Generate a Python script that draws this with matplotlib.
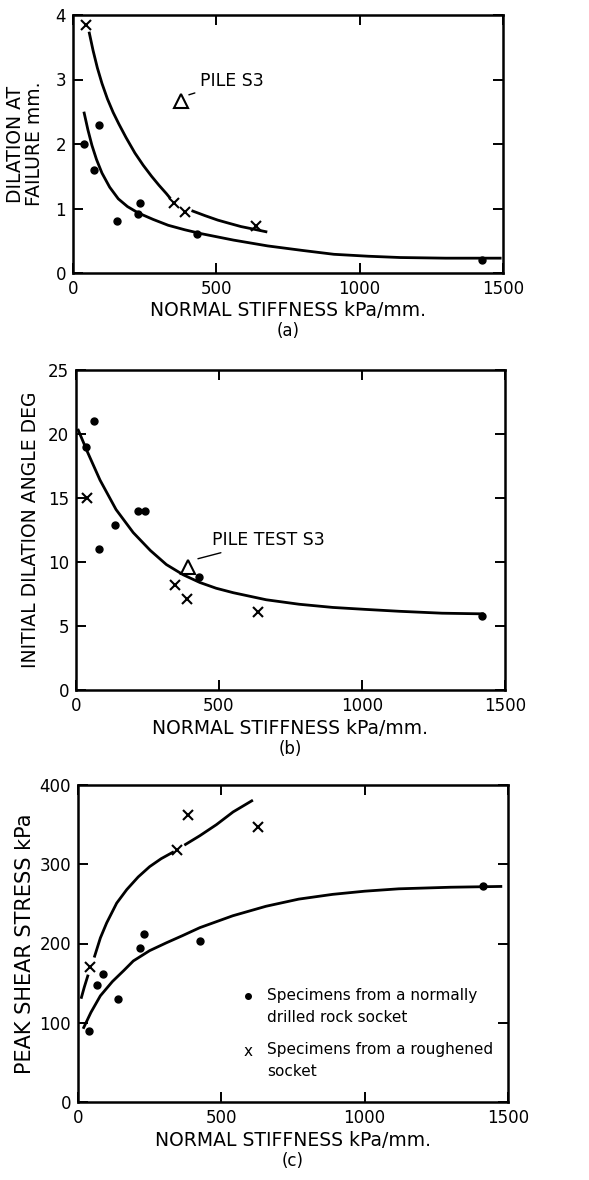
import matplotlib
matplotlib.use("Agg")
import matplotlib.pyplot as plt

plt.rcParams['font.family'] = ['DejaVu Sans']

# ---------------- data ----------------
# (a) dilation at failure
a_dot_x = [37, 74, 91, 155, 225, 234, 434, 1425]
a_dot_y = [2.0, 1.6, 2.3, 0.8, 0.92, 1.08, 0.6, 0.2]
a_x_x = [47, 352, 392, 638]
a_x_y = [3.85, 1.08, 0.94, 0.73]
a_tri_x = [375]
a_tri_y = [2.67]
a_up1_x = [57, 70, 85, 101, 120, 140, 160, 185, 216, 245, 274, 300, 326, 337]
a_up1_y = [3.72, 3.45, 3.18, 2.94, 2.70, 2.49, 2.31, 2.10, 1.86, 1.67, 1.50, 1.36, 1.23, 1.17]
a_up2_x = [418, 460, 505, 545, 586, 630, 673]
a_up2_y = [0.96, 0.89, 0.82, 0.77, 0.72, 0.68, 0.64]
a_lo_x = [39, 52, 66, 82, 101, 128, 158, 190, 228, 280, 332, 390, 447, 560, 679, 800, 910, 1030, 1141, 1300, 1490]
a_lo_y = [2.48, 2.22, 1.98, 1.76, 1.55, 1.33, 1.15, 1.03, 0.93, 0.83, 0.74, 0.67, 0.61, 0.51, 0.42, 0.35, 0.29, 0.26, 0.24, 0.23, 0.23]

# (b) initial dilation angle
b_dot_x = [35, 63, 79, 136, 218, 240, 430, 1420]
b_dot_y = [19.0, 21.0, 11.0, 12.9, 14.0, 14.0, 8.8, 5.8]
b_x_x = [40, 345, 388, 636]
b_x_y = [15.0, 8.2, 7.1, 6.1]
b_tri_x = [392]
b_tri_y = [9.6]
b_cur_x = [8, 40, 84, 140, 200, 260, 316, 375, 433, 490, 550, 665, 780, 898, 1010, 1130, 1280, 1421]
b_cur_y = [20.3, 18.6, 16.4, 14.1, 12.3, 10.9, 9.8, 9.0, 8.4, 7.95, 7.6, 7.05, 6.7, 6.45, 6.3, 6.15, 6.0, 5.95]

# (c) peak shear stress
c_dot_x = [37, 66, 87, 141, 216, 230, 424, 1414]
c_dot_y = [90, 148, 161, 130, 194, 212, 203, 273]
c_x_x = [43, 344, 384, 627]
c_x_y = [170, 318, 362, 347]
c_up1_x = [12, 22, 34]
c_up1_y = [132, 145, 159]
c_up2_x = [58, 78, 100, 135, 170, 210, 250, 290, 330]
c_up2_y = [184, 207, 226, 251, 268, 284, 297, 307, 315]
c_up3_x = [375, 425, 483, 541, 606]
c_up3_y = [325, 336, 350, 366, 380]
c_lo_x = [20, 45, 78, 120, 160, 193, 250, 309, 365, 425, 540, 656, 770, 888, 1000, 1119, 1300, 1475]
c_lo_y = [94, 113, 134, 152, 166, 178, 191, 201, 210, 220, 235, 247, 256, 262, 266, 269, 271, 272]

xticks = [0, 500, 1000, 1500]
xlabel = "NORMAL STIFFNESS kPa/mm."
captions = ["(a)", "(b)", "(c)"]
legend_lines = ["Specimens from a normally", "drilled rock socket",
                "Specimens from a roughened", "socket"]

# ---------------- figure ----------------
W, H = 589, 1180
fig = plt.figure(figsize=(W / 100, H / 100), dpi=100)

def px_axes(l, r, t, b):
    return fig.add_axes([l / W, 1 - b / H, (r - l) / W, (b - t) / H])

ax1 = px_axes(73, 503, 15, 273)
ax2 = px_axes(76, 505, 370, 690)
ax3 = px_axes(78, 508, 785, 1102)

lw_curve = 2.0
tick_fs = 12
lab_fs = 13.5

def style(ax, ymax, ystep):
    ax.set_xlim(0, 1500)
    ax.set_ylim(0, ymax)
    ax.set_xticks(xticks)
    ax.set_yticks(list(range(0, ymax + 1, ystep)))
    ax.tick_params(direction='in', length=7, width=1.4, top=True, right=True,
                   labelsize=tick_fs, pad=5)
    for s in ax.spines.values():
        s.set_linewidth(1.8)

def under_text(ax, ypx, text, fs):
    pos = ax.get_position()
    fig.text(pos.x0 + pos.width / 2, 1 - ypx / H, text, ha='center', va='center', fontsize=fs)

def dots(ax, x, y):
    ax.plot(x, y, 'o', color='black', markersize=5, markerfacecolor='black',
            linestyle='none')

def crosses(ax, x, y):
    ax.plot(x, y, 'x', color='black', markersize=7, mew=1.5, linestyle='none')

# (a)
style(ax1, 4, 1)
ax1.plot(a_up1_x, a_up1_y, color='black', lw=lw_curve)
ax1.plot(a_up2_x, a_up2_y, color='black', lw=lw_curve)
ax1.plot(a_lo_x, a_lo_y, color='black', lw=lw_curve)
dots(ax1, a_dot_x, a_dot_y)
crosses(ax1, a_x_x, a_x_y)
ax1.plot(a_tri_x, a_tri_y, '^', markersize=10, markerfacecolor='white',
         markeredgecolor='black', mew=1.5)
ax1.annotate("PILE S3", xy=(a_tri_x[0] + 20, a_tri_y[0] + 0.08), xytext=(444, 2.97),
             fontsize=12.5, va='center', ha='left',
             arrowprops=dict(arrowstyle='-', lw=1.0, color='black', shrinkA=2, shrinkB=2))
ax1.set_ylabel("DILATION AT\nFAILURE mm.", fontsize=lab_fs, labelpad=8, linespacing=1.0)
under_text(ax1, 310, xlabel, lab_fs)
under_text(ax1, 331, captions[0], 12)

# (b)
style(ax2, 25, 5)
ax2.plot(b_cur_x, b_cur_y, color='black', lw=lw_curve)
dots(ax2, b_dot_x, b_dot_y)
crosses(ax2, b_x_x, b_x_y)
ax2.plot(b_tri_x, b_tri_y, '^', markersize=10, markerfacecolor='white',
         markeredgecolor='black', mew=1.5)
ax2.annotate("PILE TEST S3", xy=(b_tri_x[0] + 25, b_tri_y[0] + 0.6), xytext=(476, 11.7),
             fontsize=12.5, va='center', ha='left',
             arrowprops=dict(arrowstyle='-', lw=1.0, color='black', shrinkA=2, shrinkB=2))
ax2.set_ylabel("INITIAL DILATION ANGLE DEG", fontsize=lab_fs, labelpad=6)
under_text(ax2, 728, xlabel, lab_fs)
under_text(ax2, 749, captions[1], 12)

# (c)
style(ax3, 400, 100)
ax3.plot(c_up1_x, c_up1_y, color='black', lw=lw_curve)
ax3.plot(c_up2_x, c_up2_y, color='black', lw=lw_curve)
ax3.plot(c_up3_x, c_up3_y, color='black', lw=lw_curve)
ax3.plot(c_lo_x, c_lo_y, color='black', lw=lw_curve)
dots(ax3, c_dot_x, c_dot_y)
crosses(ax3, c_x_x, c_x_y)
ax3.set_ylabel("PEAK SHEAR STRESS kPa", fontsize=15, labelpad=3)
under_text(ax3, 1140, xlabel, lab_fs)
under_text(ax3, 1161, captions[2], 12)

# legend as text
ax3.plot([0.395], [0.335], 'o', color='black', markersize=4, transform=ax3.transAxes)
ax3.text(0.44, 0.335, legend_lines[0], transform=ax3.transAxes, fontsize=11, va='center')
ax3.text(0.44, 0.265, legend_lines[1], transform=ax3.transAxes, fontsize=11, va='center')
ax3.text(0.395, 0.16, "x", transform=ax3.transAxes, fontsize=11, va='center', ha='center')
ax3.text(0.44, 0.165, legend_lines[2], transform=ax3.transAxes, fontsize=11, va='center')
ax3.text(0.44, 0.095, legend_lines[3], transform=ax3.transAxes, fontsize=11, va='center')

fig.savefig("out.png", dpi=100)
